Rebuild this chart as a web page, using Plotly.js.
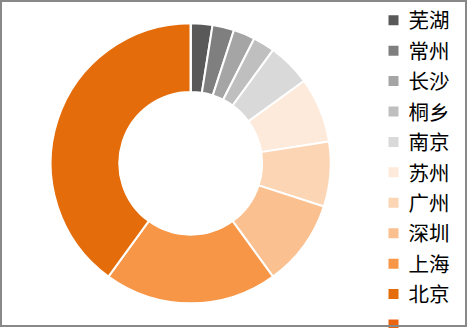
<!DOCTYPE html>
<html>
<head>
<meta charset="utf-8">
<script src="https://cdn.plot.ly/plotly-3.0.1.min.js"></script>
<style>
  html, body { margin: 0; padding: 0; background: #fff; }
  #wrap { position: relative; width: 468px; height: 328px; overflow: hidden; }
  #chart { width: 468px; height: 328px; }
  #frame { position: absolute; left: 0; top: 0; width: 467px; height: 327px; box-sizing: border-box;
           border: 2px solid #888888; pointer-events: none; }
  .legend .scrollbar { display: none; }
  .legend .legendtext { font-size: 20.5px !important; transform: translate(-5px, 0); }
  .legend .traces:nth-child(11) .legendtext { fill-opacity: 0 !important; }
</style>
</head>
<body>
<div id="wrap">
  <div id="chart"></div>
  <div id="frame"></div>
</div>
<script>
const cities = ["芜湖", "常州", "长沙", "桐乡", "南京", "苏州", "广州", "深圳", "上海", "北京", "其他"];
const counts = [1, 1, 1, 1, 2, 3, 3, 4, 8, 16, 0];
const sliceColors = ["#595959", "#7f7f7f", "#a5a5a5", "#bfbfbf", "#d9d9d9",
                     "#fdeada", "#fcd5b5", "#fac090", "#f79646", "#e46c0a", "#ea6410"];

const W = 468, H = 328;
const cx = 190.7, cy = 163.3, R = 140;

const trace = {
  type: 'pie',
  labels: cities,
  values: counts,
  sort: false,
  direction: 'clockwise',
  rotation: 0,
  hole: 0.51,
  textinfo: 'none',
  hoverinfo: 'label+value+percent',
  marker: { colors: sliceColors, line: { color: '#ffffff', width: 2 } },
  domain: { x: [(cx - R) / W, (cx + R) / W], y: [1 - (cy + R) / H, 1 - (cy - R) / H] }
};

const layout = {
  width: W, height: H,
  margin: { l: 0, r: 0, t: 0, b: 0 },
  paper_bgcolor: '#ffffff',
  showlegend: true,
  legend: {
    x: 373.5 / W, xanchor: 'left',
    y: 1 - 2.8 / H, yanchor: 'top',
    orientation: 'v',
    font: { family: '"Noto Sans CJK SC", "Noto Sans", sans-serif', size: 21.1, color: '#000000' },
    bgcolor: 'rgba(0,0,0,0)',
    itemclick: false, itemdoubleclick: false
  }
};

Plotly.newPlot('chart', [trace], layout, { displayModeBar: false });
</script>
</body>
</html>
